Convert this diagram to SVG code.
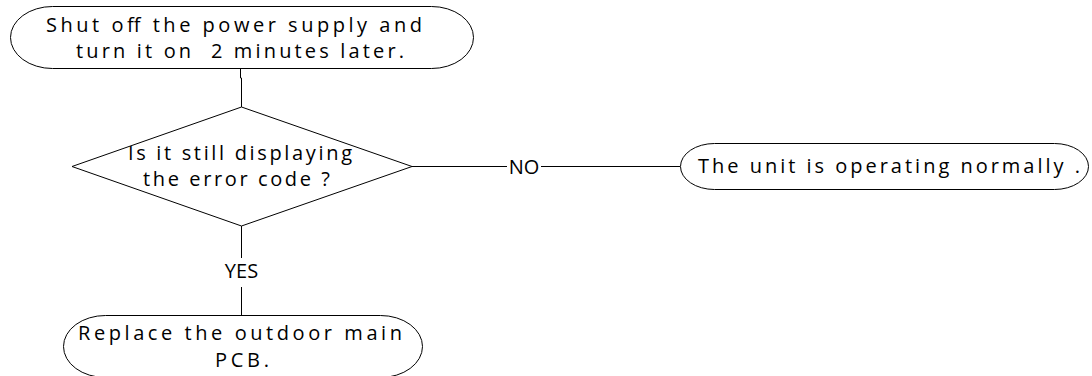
<svg xmlns="http://www.w3.org/2000/svg" width="1092" height="376" viewBox="0 0 1092 376">
<style>
.shape{fill:#fff;stroke:#000;stroke-width:1}
.line{fill:none;stroke:#000;stroke-width:1}
text{font-family:"Open Sans","Noto Sans",sans-serif;font-size:20px;fill:#000;text-anchor:middle;white-space:pre}
</style>
<rect width="1092" height="376" fill="#fff"/>
<g id="connectors">
<path class="line" d="M240.5 69 V78 H241.5 V107"/>
<path class="line" d="M241.5 226 V258"/>
<path class="line" d="M241.5 287 V315"/>
<path class="line" d="M412 166.5 H507"/>
<path class="line" d="M541 166.5 H680"/>
<text x="524" y="173.5">NO</text>
<text x="241.5" y="278">YES</text>
</g>
<g id="start">
<rect class="shape" x="10.5" y="6.5" width="463" height="62" rx="42" ry="31"/>
<text x="234" y="31.5" textLength="376">Shut off the power supply and</text>
<text x="240" y="58" textLength="328" xml:space="preserve">turn it on  2 minutes later.</text>
</g>
<g id="decision">
<polygon class="shape" points="241.5,107 412,166.5 241.5,226 72,166.5"/>
<text x="240" y="159.5" textLength="224">Is it still displaying</text>
<text x="236.5" y="186" textLength="187">the error code ?</text>
</g>
<g id="normal">
<rect class="shape" x="680.5" y="143.5" width="408" height="46" rx="34" ry="23"/>
<text x="889" y="172.5" textLength="382">The unit is operating normally .</text>
</g>
<g id="replace">
<rect class="shape" x="63.5" y="315.5" width="359" height="62" rx="42" ry="31"/>
<text x="240" y="340" textLength="324">Replace the outdoor main</text>
<text x="242" y="366.5" textLength="54">PCB.</text>
</g>
</svg>
